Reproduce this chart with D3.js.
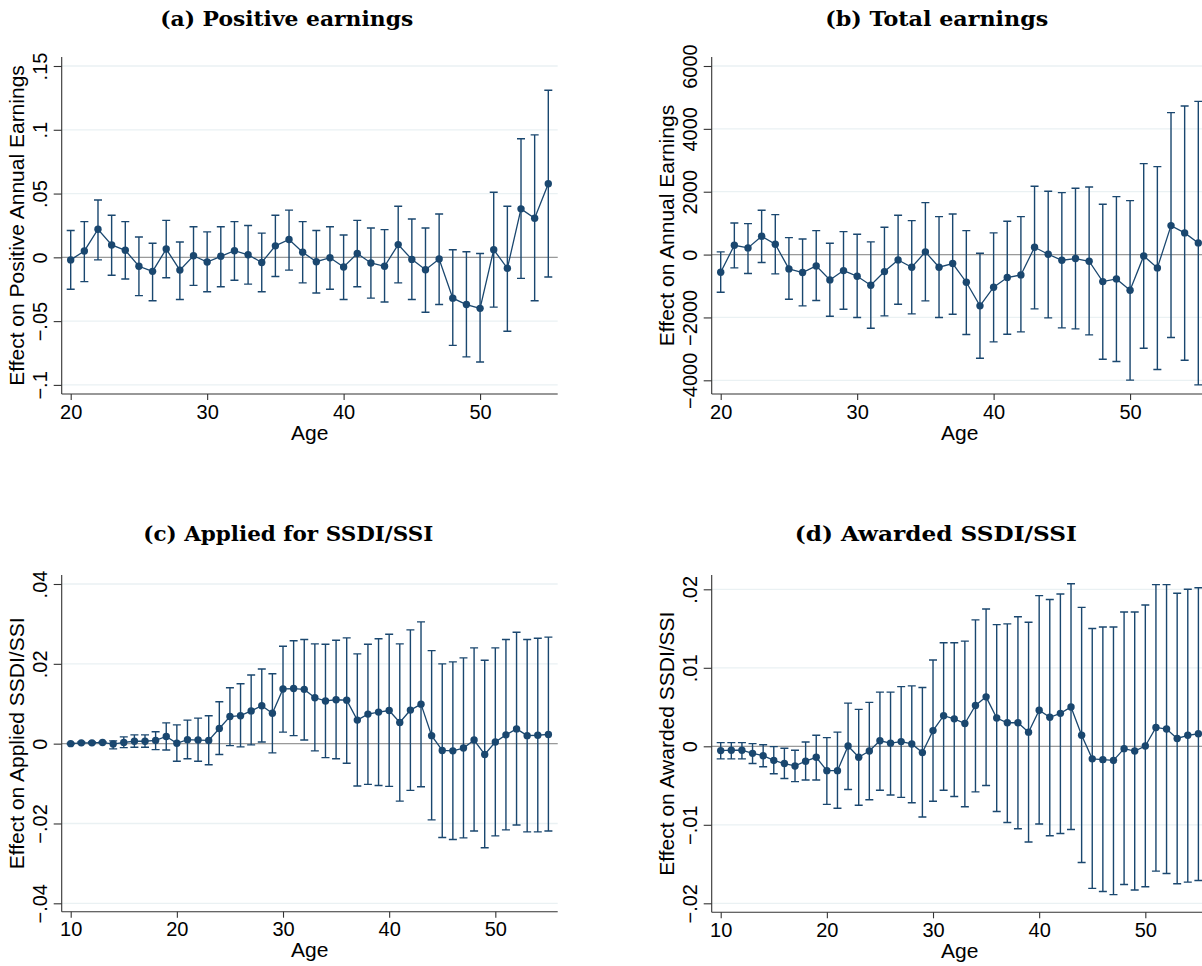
<!DOCTYPE html>
<html><head><meta charset="utf-8">
<script src="https://cdn.jsdelivr.net/npm/d3@7"></script>
<style>body{margin:0;background:#fff;overflow:hidden} svg{display:block}</style>
</head><body><svg id="c" width="1202" height="966"></svg>
<script>
// ---------- DATA ----------
const agesEarn = [20,21,22,23,24,25,26,27,28,29,30,31,32,33,34,35,36,37,38,39,40,41,42,43,44,45,46,47,48,49,50,51,52,53,54,55];
const posEst = [-0.002,0.005,0.022,0.0097,0.0055,-0.007,-0.011,0.0065,-0.010,0.0013,-0.0037,0.0008,0.0052,0.002,-0.004,0.009,0.014,0.004,-0.0034,-0.0003,-0.0076,0.003,-0.0044,-0.007,0.010,-0.0016,-0.0097,-0.0013,-0.032,-0.037,-0.040,0.006,-0.0086,0.038,0.0306,0.0577];
const posHi = [0.021,0.028,0.045,0.033,0.028,0.016,0.011,0.029,0.012,0.024,0.020,0.024,0.028,0.025,0.019,0.033,0.037,0.028,0.021,0.024,0.0175,0.029,0.023,0.0217,0.040,0.030,0.023,0.034,0.006,0.0044,0.003,0.051,0.040,0.093,0.096,0.131];
const posLo = [-0.025,-0.019,-0.002,-0.014,-0.017,-0.030,-0.034,-0.016,-0.033,-0.022,-0.027,-0.023,-0.018,-0.021,-0.027,-0.015,-0.010,-0.020,-0.028,-0.025,-0.033,-0.023,-0.032,-0.035,-0.020,-0.033,-0.043,-0.037,-0.069,-0.078,-0.082,-0.039,-0.058,-0.0165,-0.034,-0.0154];

const totEst = [-562,297,212,583,329,-456,-572,-360,-806,-509,-689,-975,-541,-170,-403,85,-403,-286,-880,-1632,-1039,-731,-647,233,11,-180,-127,-212,-859,-774,-1134,-42,-424,922,689,371];
const totHi = [85,1007,986,1410,1272,541,498,763,360,731,647,403,869,1251,1081,1654,1208,1293,763,42,689,1060,1208,2173,2014,1972,2109,2152,1601,1844,1717,2894,2798,4516,4728,4876];
const totLo = [-1198,-424,-604,-254,-615,-1420,-1632,-1463,-1961,-1738,-2003,-2343,-1950,-1579,-1887,-1473,-2003,-1897,-2544,-3297,-2777,-2533,-2459,-1728,-2014,-2332,-2364,-2555,-3328,-3403,-3996,-2979,-3657,-2639,-3360,-4145];

const agesSSA = [10,11,12,13,14,15,16,17,18,19,20,21,22,23,24,25,26,27,28,29,30,31,32,33,34,35,36,37,38,39,40,41,42,43,44,45,46,47,48,49,50,51,52,53,54,55];
const appEst = [0,0.0002,0.0002,0.0003,-0.0001,0.0003,0.0006,0.0006,0.0008,0.0018,0.0001,0.001,0.0009,0.0008,0.0038,0.0068,0.007,0.0082,0.0095,0.0076,0.0137,0.0138,0.0136,0.0115,0.0107,0.011,0.0109,0.0059,0.0074,0.0079,0.0083,0.0053,0.0084,0.0099,0.002,-0.0017,-0.0018,-0.0011,0.0009,-0.0027,0.0004,0.0022,0.0037,0.002,0.0021,0.0023];
const appHi = [0.0001,0.0004,0.0004,0.0005,0.0007,0.0017,0.0022,0.0022,0.003,0.0052,0.0047,0.0059,0.0064,0.007,0.0105,0.014,0.015,0.0172,0.0187,0.0175,0.0244,0.0258,0.0261,0.025,0.0249,0.0259,0.0265,0.0225,0.0249,0.0263,0.0274,0.025,0.0285,0.0305,0.0233,0.02,0.0205,0.0215,0.024,0.0209,0.024,0.0261,0.0279,0.0261,0.0264,0.0267];
const appLo = [-0.0001,0,0,0.0001,-0.0013,-0.001,-0.0009,-0.0009,-0.0015,-0.0016,-0.0044,-0.0038,-0.0044,-0.0053,-0.0027,-0.0005,-0.0008,-0.0003,0.0004,-0.0023,0.0029,0.002,0.0009,-0.0018,-0.0035,-0.0038,-0.0049,-0.0106,-0.0102,-0.0105,-0.0107,-0.0144,-0.0117,-0.0108,-0.0191,-0.0235,-0.024,-0.0236,-0.0219,-0.0261,-0.0231,-0.0216,-0.0204,-0.0221,-0.0221,-0.0219];

const awdEst = [-0.00055,-0.0005,-0.0005,-0.0009,-0.0012,-0.0018,-0.0022,-0.0025,-0.0019,-0.0014,-0.0031,-0.0031,0.00004,-0.0014,-0.0006,0.0007,0.0004,0.0006,0.0003,-0.0008,0.002,0.0039,0.0035,0.0029,0.0052,0.0063,0.0036,0.003,0.003,0.0018,0.0046,0.0037,0.0042,0.005,0.0014,-0.0016,-0.0017,-0.0018,-0.0003,-0.0006,0.00004,0.0024,0.0022,0.001,0.0014,0.0016];
const awdHi = [0.00047,0.00047,0.00047,0.00034,0.0002,-0.00004,-0.00025,-0.0005,0.00055,0.0014,0.0011,0.0018,0.0055,0.0047,0.0056,0.0069,0.0069,0.0076,0.0077,0.0075,0.011,0.0132,0.0132,0.0134,0.0161,0.0175,0.0155,0.0156,0.0165,0.0158,0.0192,0.0187,0.0194,0.0207,0.0177,0.015,0.0152,0.0152,0.0171,0.0171,0.018,0.0206,0.0206,0.0195,0.02,0.0202];
const awdLo = [-0.0016,-0.0016,-0.0016,-0.0022,-0.0026,-0.0035,-0.0041,-0.0045,-0.0043,-0.0043,-0.0074,-0.0079,-0.0055,-0.0075,-0.0068,-0.0056,-0.0062,-0.0065,-0.0072,-0.009,-0.007,-0.0056,-0.0064,-0.0077,-0.0058,-0.005,-0.0083,-0.0097,-0.0105,-0.0122,-0.0099,-0.0114,-0.0111,-0.0106,-0.0148,-0.0181,-0.0185,-0.0189,-0.0176,-0.0183,-0.0179,-0.0159,-0.0162,-0.0175,-0.0173,-0.0171];

const titles = ["(a) Positive earnings","(b) Total earnings","(c) Applied for SSDI/SSI","(d) Awarded SSDI/SSI"];
const yTitles = ["Effect on Positive Annual Earnings","Effect on Annual Earnings","Effect on Applied SSDI/SSI","Effect on Awarded SSDI/SSI"];
const xTitle = "Age";
const xTicksEarn = [20,30,40,50];
const xTicksSSA = [10,20,30,40,50];
const yTicksA = [-0.1,-0.05,0,0.05,0.1,0.15];
const yLabelsA = ["\u2212.1","\u2212.05","0",".05",".1",".15"];
const yTicksB = [-4000,-2000,0,2000,4000,6000];
const yLabelsB = ["\u22124000","\u22122000","0","2000","4000","6000"];
const yTicksC = [-0.04,-0.02,0,0.02,0.04];
const yLabelsC = ["\u2212.04","\u2212.02","0",".02",".04"];
const yTicksD = [-0.02,-0.01,0,0.01,0.02];
const yLabelsD = ["\u2212.02","\u2212.01","0",".01",".02"];

// ---------- LAYOUT ----------
const NAVY = "#1a476f";
const svg = d3.select("#c");

const panels = [
  {ages:agesEarn, est:posEst, lo:posLo, hi:posHi, xt:xTicksEarn, yt:yTicksA, yl:yLabelsA,
   title:titles[0], ytitle:yTitles[0], L:61.7, T:57, B:394, xr:[70.7,548.3], yd:[-0.1,0.15], yr:[384.9,66],
   tx:286.7, ty:25.5, tw:253},
  {ages:agesEarn, est:totEst, lo:totLo, hi:totHi, xt:xTicksEarn, yt:yTicksB, yl:yLabelsB,
   title:titles[1], ytitle:yTitles[1], L:711.7, T:57, B:394, xr:[720.7,1198.3], yd:[-4000,6000], yr:[380.3,66],
   tx:936.7, ty:25.5, tw:223},
  {ages:agesSSA, est:appEst, lo:appLo, hi:appHi, xt:xTicksSSA, yt:yTicksC, yl:yLabelsC,
   title:titles[2], ytitle:yTitles[2], L:61.7, T:575, B:911.7, xr:[70.7,548.4], yd:[-0.04,0.04], yr:[903.3,584],
   tx:288.3, ty:541, tw:290},
  {ages:agesSSA, est:awdEst, lo:awdLo, hi:awdHi, xt:xTicksSSA, yt:yTicksD, yl:yLabelsD,
   title:titles[3], ytitle:yTitles[3], L:711.7, T:575, B:912.3, xr:[720.7,1198.4], yd:[-0.02,0.02], yr:[903.3,589.3],
   tx:935.8, ty:541, tw:282}
];

panels.forEach(p => {
  const R = p.L + 496;
  const x = d3.scaleLinear().domain(d3.extent(p.ages)).range(p.xr);
  const y = d3.scaleLinear().domain(p.yd).range(p.yr);
  const g = svg.append("g");

  // title
  g.append("text").attr("x", p.tx).attr("y", p.ty).attr("text-anchor","middle")
    .attr("font-family","'DejaVu Serif', serif").attr("font-weight","bold").attr("font-size",21)
    .attr("textLength", p.tw).attr("lengthAdjust","spacingAndGlyphs").attr("fill","#000")
    .text(p.title);

  // gridlines
  g.append("g").selectAll("line").data(p.yt).join("line")
    .attr("x1", p.L).attr("x2", R).attr("y1", d => y(d)).attr("y2", d => y(d))
    .attr("stroke","#eaf1f3").attr("stroke-width",1.3);

  // zero line
  g.append("line").attr("x1", p.L).attr("x2", R).attr("y1", y(0)).attr("y2", y(0))
    .attr("stroke","#9a9a9a").attr("stroke-width",1.3);

  // y axis
  const ya = g.append("g").attr("transform",`translate(${p.L},0)`)
    .call(d3.axisLeft(y).tickValues(p.yt).tickSize(8).tickSizeOuter(0).tickFormat((d,i)=>p.yl[i]));
  ya.select(".domain").attr("d", `M0,${p.T}V${p.B}`).attr("stroke","#333").attr("stroke-width",1.1);
  ya.selectAll(".tick line").attr("stroke","#333").attr("stroke-width",1.1);
  ya.selectAll(".tick text")
    .attr("x",null).attr("dy",null)
    .attr("transform","translate(-15,0) rotate(-90)")
    .attr("text-anchor","middle")
    .attr("font-family","'Liberation Sans', Arial, sans-serif").attr("font-size",20).attr("fill","#000");

  // x axis
  const xa = g.append("g").attr("transform",`translate(0,${p.B})`)
    .call(d3.axisBottom(x).tickValues(p.xt).tickSize(6).tickSizeOuter(0).tickFormat(d3.format("d")));
  xa.select(".domain").attr("d", `M${p.L},0H${R}`).attr("stroke","#333").attr("stroke-width",1.1);
  xa.selectAll(".tick line").attr("stroke","#333").attr("stroke-width",1.1);
  xa.selectAll(".tick text").attr("y",24.5).attr("dy",null)
    .attr("font-family","'Liberation Sans', Arial, sans-serif").attr("font-size",20).attr("fill","#000");

  // axis titles
  g.append("text").attr("x", (p.L+R)/2).attr("y", p.B+45.6).attr("text-anchor","middle")
    .attr("font-family","'Liberation Sans', Arial, sans-serif").attr("font-size",21).text(xTitle);
  g.append("text").attr("transform",`translate(${p.L-37.7},${(p.T+p.B)/2}) rotate(-90)`)
    .attr("text-anchor","middle")
    .attr("font-family","'Liberation Sans', Arial, sans-serif").attr("font-size",21).text(p.ytitle);

  const pts = p.ages.map((a,i)=>({a, e:p.est[i], lo:p.lo[i], hi:p.hi[i]}));

  // CI caps
  const ci = g.append("g").attr("stroke", NAVY).attr("stroke-width",1.4).attr("fill","none");
  ci.selectAll("path").data(pts).join("path")
    .attr("d", d => {
      const cx = x(d.a), y1 = y(d.hi), y2 = y(d.lo);
      return `M${cx},${y1}V${y2}M${cx-4},${y1}H${cx+4}M${cx-4},${y2}H${cx+4}`;
    });

  // connecting line
  g.append("path").datum(pts)
    .attr("d", d3.line().x(d=>x(d.a)).y(d=>y(d.e)))
    .attr("fill","none").attr("stroke",NAVY).attr("stroke-width",1.3);

  // markers
  g.append("g").selectAll("circle").data(pts).join("circle")
    .attr("cx", d=>x(d.a)).attr("cy", d=>y(d.e)).attr("r",3.7).attr("fill",NAVY);
});
</script>
</body></html>
